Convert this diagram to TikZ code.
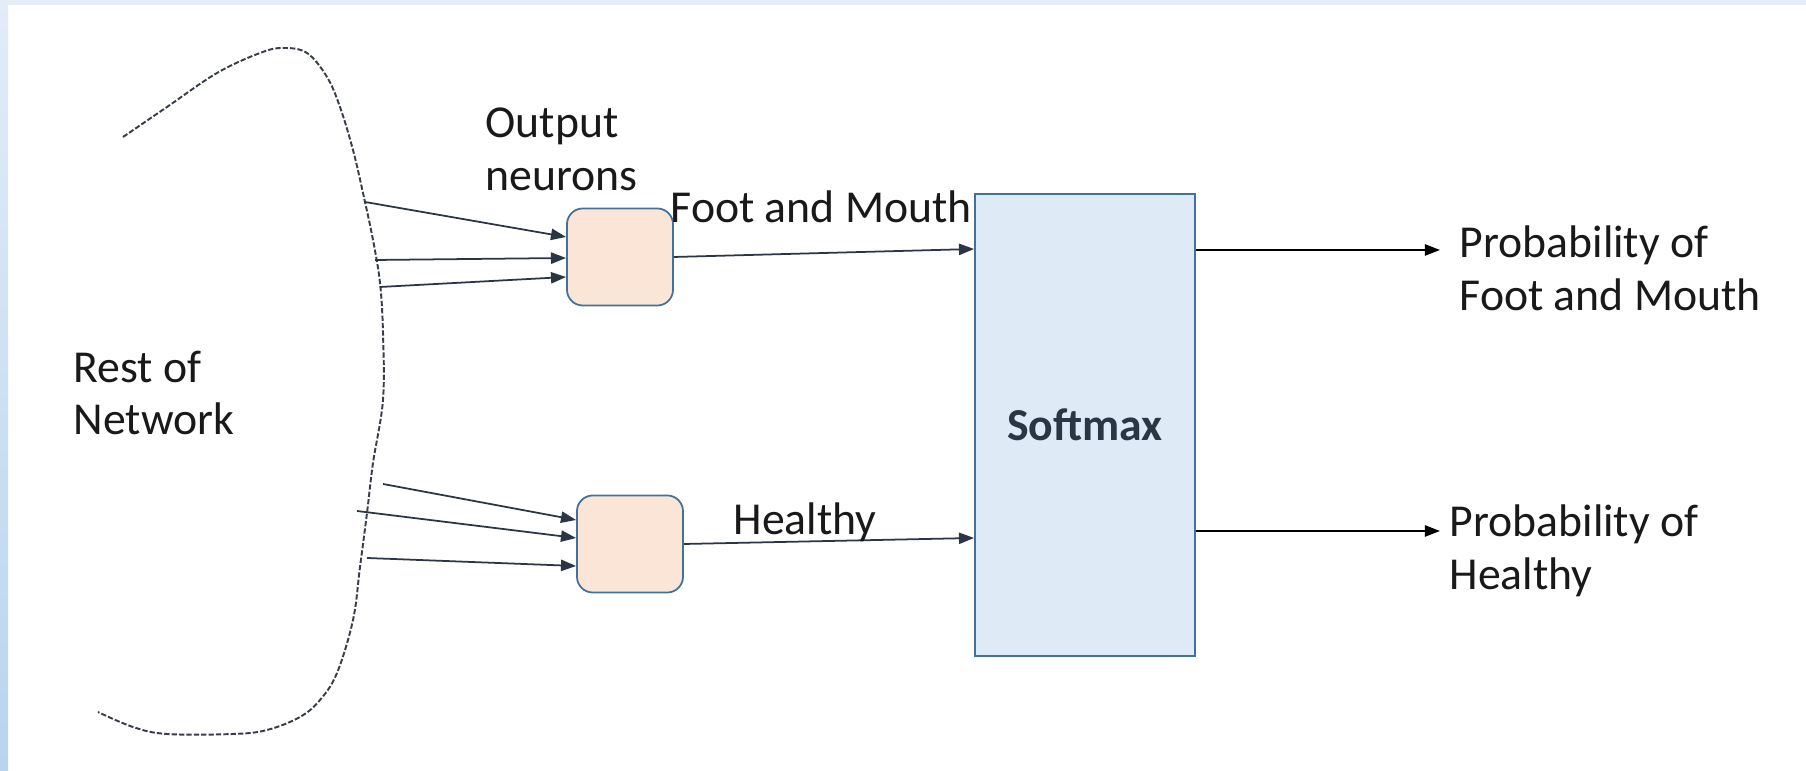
\documentclass[tikz,border=0pt]{standalone}
\usepackage{fontspec}
\setmainfont{Carlito}
\usetikzlibrary{arrows.meta, positioning, calc}
\definecolor{peach}{HTML}{FBE5D6}
\definecolor{skyfill}{HTML}{DEEBF7}
\definecolor{edgeblue}{HTML}{41719C}
\definecolor{inkslate}{HTML}{2B3644}
\definecolor{dashgray}{HTML}{383E48}
\definecolor{bandtop}{HTML}{E3ECF7}
\definecolor{bandlow}{HTML}{B9D4EE}

\begin{document}
\begin{tikzpicture}[x=0.01cm, y=-0.01cm,
  >={Triangle[length=4.3pt, width=3.2pt]},
  neuron/.style={draw=edgeblue, fill=peach, line width=0.5pt, rounded corners=4.5pt,
    minimum width=1.06cm, minimum height=0.97cm, inner sep=0pt},
  softbox/.style={draw=edgeblue, fill=skyfill, line width=0.5pt,
    minimum width=2.2cm, minimum height=4.62cm, inner sep=0pt,
    font=\fontsize{13}{15}\selectfont\bfseries, text=inkslate},
  feed/.style={inkslate, line width=0.5pt, ->},
  lbl/.style={font=\fontsize{13}{15}\selectfont, inner sep=0pt, align=left, text=black!90}]

% Canvas with the light blue slide edge (pixel units, y downwards)
\useasboundingbox (0,0) rectangle (1806,771);
\fill[white] (0,0) rectangle (1806,771);
\fill[bandtop] (0,0) rectangle (1806,5);
\shade[top color=bandtop, bottom color=bandlow] (0,0) rectangle (8,771);

% Rest of network outline
\draw[dashgray, line width=0.55pt, dash pattern=on 1.5pt off 0.6pt]
  plot[smooth, tension=0.6] coordinates {(123,137) (167,107) (217,73) (260,53) (283,48)
    (307,53) (327,77) (340,107) (353,150) (363,193) (373,240) (380,283) (383,333)
    (383,400) (373,463) (367,513) (360,567) (353,620) (337,673) (320,700) (300,717)
    (267,730) (233,734) (167,734) (133,727) (98,712)};
\node[lbl, anchor=west] (rest) at (73,393) {Rest of\\Network};

% Output neurons
\node[neuron] (fm) at (620,257) {};
\node[neuron] (hl) at (630,544) {};
\node[lbl, anchor=west] (outn) at (485,149) {Output\\neurons};

% Inputs coming off the network
\coordinate (a1) at (365,202);
\coordinate (a2) at (375,260);
\coordinate (a3) at (380,287);
\coordinate (b1) at (383,484);
\coordinate (b2) at (357,511);
\coordinate (b3) at (367,558);
\draw[feed] (a1) -- ($(fm.west)+(0,-20)$);
\draw[feed] (a2) -- ($(fm.west)+(0,1)$);
\draw[feed] (a3) -- ($(fm.west)+(0,20)$);
\draw[feed] (b1) -- ($(hl.west)+(0,-24)$);
\draw[feed] (b2) -- ($(hl.west)+(0,-6)$);
\draw[feed] (b3) -- ($(hl.west)+(0,22)$);

% Softmax
\node[softbox] (sm) at (1085,425) {Softmax};
\draw[feed] (fm.east) -- ($(sm.west)+(0,-176)$);
\draw[feed] (hl.east) -- ($(sm.west)+(0,113)$);
\node[lbl, anchor=west] (fmlab) at (670,207) {Foot and Mouth};
\node[lbl, anchor=west] (hllab) at (733,522) {Healthy};

% Probabilities
\coordinate (o1) at (1440,250);
\coordinate (o2) at (1440,531);
\draw[->, black, line width=0.5pt] ($(sm.east)+(0,-175)$) -- (o1);
\draw[->, black, line width=0.5pt] ($(sm.east)+(0,106)$) -- (o2);
\node[lbl, anchor=west] (p1) at (1459,268) {Probability of\\Foot and Mouth};
\node[lbl, anchor=west] (p2) at (1449,551) {Probability of\\Healthy};

\end{tikzpicture}
\end{document}
